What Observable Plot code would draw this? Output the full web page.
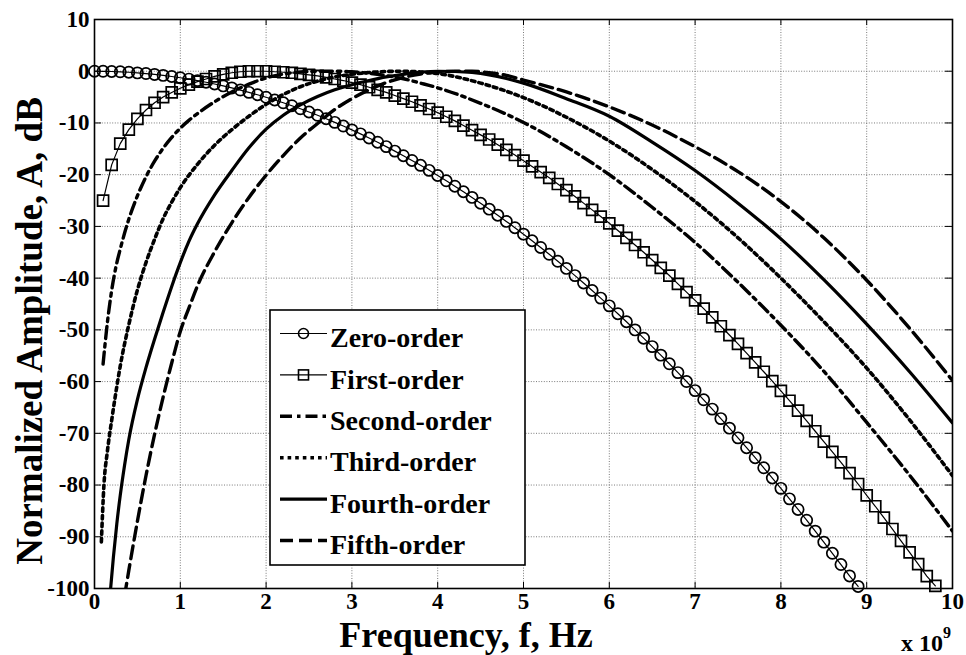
<!DOCTYPE html>
<html>
<head>
<meta charset="utf-8">
<script src="https://cdn.jsdelivr.net/npm/d3@7"></script>
<script src="https://cdn.jsdelivr.net/npm/@observablehq/plot@0.6"></script>
<style>
  html, body { margin: 0; padding: 0; background: #fff; }
  #chart { width: 966px; height: 655px; }
</style>
</head>
<body>
<div id="chart"></div>
<script>
// Axis ticks
const xTicks = [0, 1, 2, 3, 4, 5, 6, 7, 8, 9, 10];
const yTicks = [10, 0, -10, -20, -30, -40, -50, -60, -70, -80, -90, -100];

// Normalized spectra [frequency (x 10^9 Hz), amplitude (dB)]
const zeroOrder = [
  [0.0, 0], [0.1, -0.01], [0.2, -0.05], [0.3, -0.11], [0.4, -0.2], [0.5, -0.32], [0.6, -0.45], [0.7, -0.62], [0.8, -0.81], [0.9, -1.02],
  [1.0, -1.26], [1.1, -1.52], [1.2, -1.81], [1.3, -2.13], [1.4, -2.47], [1.5, -2.84], [1.6, -3.23], [1.7, -3.64], [1.8, -4.08], [1.9, -4.55],
  [2.0, -5.04], [2.1, -5.56], [2.2, -6.1], [2.3, -6.67], [2.4, -7.26], [2.5, -7.88], [2.6, -8.52], [2.7, -9.19], [2.8, -9.88], [2.9, -10.6],
  [3.0, -11.34], [3.1, -12.11], [3.2, -12.9], [3.3, -13.72], [3.4, -14.57], [3.5, -15.44], [3.6, -16.33], [3.7, -17.25], [3.8, -18.19], [3.9, -19.16],
  [4.0, -20.16], [4.1, -21.18], [4.2, -22.23], [4.3, -23.3], [4.4, -24.39], [4.5, -25.52], [4.6, -26.66], [4.7, -27.83], [4.8, -29.03], [4.9, -30.25],
  [5.0, -31.5], [5.1, -32.77], [5.2, -34.07], [5.3, -35.39], [5.4, -36.74], [5.5, -38.12], [5.6, -39.51], [5.7, -40.94], [5.8, -42.39], [5.9, -43.86],
  [6.0, -45.36], [6.1, -46.88], [6.2, -48.43], [6.3, -50.01], [6.4, -51.61], [6.5, -53.24], [6.6, -54.89], [6.7, -56.56], [6.8, -58.26], [6.9, -59.99],
  [7.0, -61.74], [7.1, -63.52], [7.2, -65.32], [7.3, -67.15], [7.4, -69.0], [7.5, -70.88], [7.6, -72.78], [7.7, -74.71], [7.8, -76.66], [7.9, -78.64],
  [8.0, -80.64], [8.1, -82.67], [8.2, -84.72], [8.3, -86.8], [8.4, -88.91], [8.5, -91.04], [8.6, -93.19], [8.7, -95.37], [8.8, -97.57], [8.9, -99.6]
];

const firstOrder = [
  [0.1, -25.0], [0.2, -18.1], [0.3, -14.0], [0.4, -11.3], [0.5, -9.2], [0.6, -7.5], [0.7, -6.1], [0.8, -5.0], [0.9, -4.1],
  [1.0, -3.3], [1.1, -2.6], [1.2, -2.0], [1.3, -1.5], [1.4, -1.0], [1.5, -0.6], [1.6, -0.3], [1.7, -0.1], [1.8, 0.0], [1.9, 0.0],
  [2.0, 0.0], [2.1, -0.1], [2.2, -0.2], [2.3, -0.3], [2.4, -0.5], [2.5, -0.7], [2.6, -0.9], [2.7, -1.2], [2.8, -1.5], [2.9, -1.8],
  [3.0, -2.2], [3.1, -2.6], [3.2, -3.1], [3.3, -3.6], [3.4, -4.1], [3.5, -4.7], [3.6, -5.3], [3.7, -5.9], [3.8, -6.6], [3.9, -7.3],
  [4.0, -8.0], [4.1, -8.8], [4.2, -9.6], [4.3, -10.5], [4.4, -11.4], [4.5, -12.3], [4.6, -13.2], [4.7, -14.2], [4.8, -15.2], [4.9, -16.2],
  [5.0, -17.3], [5.1, -18.4], [5.2, -19.5], [5.3, -20.6], [5.4, -21.8], [5.5, -23.0], [5.6, -24.2], [5.7, -25.5], [5.8, -26.8], [5.9, -28.1],
  [6.0, -29.4], [6.1, -30.8], [6.2, -32.2], [6.3, -33.6], [6.4, -35.0], [6.5, -36.5], [6.6, -38.0], [6.7, -39.5], [6.8, -41.1], [6.9, -42.7],
  [7.0, -44.3], [7.1, -45.9], [7.2, -47.6], [7.3, -49.3], [7.4, -51.0], [7.5, -52.7], [7.6, -54.5], [7.7, -56.3], [7.8, -58.1], [7.9, -59.9],
  [8.0, -61.8], [8.1, -63.7], [8.2, -65.6], [8.3, -67.6], [8.4, -69.6], [8.5, -71.6], [8.6, -73.6], [8.7, -75.6], [8.8, -77.7], [8.9, -79.8],
  [9.0, -82.0], [9.1, -84.1], [9.2, -86.3], [9.3, -88.5], [9.4, -90.8], [9.5, -93.0], [9.6, -95.3], [9.7, -97.6], [9.8, -99.5]
];

const secondOrder = [
  [0.1, -56.6], [0.15, -48.6], [0.2, -42.4], [0.25, -37.8], [0.3, -34.4], [0.4, -28.6], [0.5, -24.1], [0.6, -20.4], [0.7, -17.4],
  [0.8, -14.9], [0.9, -12.8], [1.0, -11.0], [1.1, -9.5], [1.2, -8.2], [1.4, -5.9], [1.6, -4.0], [1.8, -2.5], [2.0, -1.3],
  [2.2, -0.55], [2.4, -0.15], [2.6, 0.0], [2.8, 0.0], [3.0, -0.1], [3.2, -0.4], [3.4, -0.85], [3.6, -1.45], [3.8, -2.3],
  [4.0, -3.2], [4.5, -6.2], [5.0, -9.9], [5.5, -14.6], [6.0, -20.0], [6.5, -26.3], [7.0, -33.1], [7.5, -40.8],
  [8.0, -49.1], [8.5, -58.0], [9.0, -67.9], [9.5, -78.1], [10.0, -88.9]
];

const thirdOrder = [
  [0.08, -91.0], [0.11, -80.0], [0.15, -73.5], [0.2, -67.5], [0.25, -62.0], [0.3, -57.0], [0.4, -49.0], [0.5, -42.3], [0.6, -37.0],
  [0.7, -32.5], [0.8, -28.5], [0.9, -25.3], [1.0, -22.5], [1.2, -18.0], [1.4, -14.3], [1.6, -11.3], [1.8, -8.7], [2.0, -6.4],
  [2.2, -4.5], [2.4, -3.0], [2.6, -1.9], [2.8, -1.1], [3.0, -0.6], [3.2, -0.25], [3.4, -0.05], [3.6, 0.0], [3.8, -0.15],
  [4.0, -0.45], [4.5, -2.3], [5.0, -5.1], [5.5, -8.9], [6.0, -13.5], [6.5, -19.0], [7.0, -25.2], [7.5, -32.2],
  [8.0, -40.0], [8.5, -48.4], [9.0, -57.4], [9.5, -67.4], [10.0, -78.2]
];

const fourthOrder = [
  [0.18, -101.5], [0.22, -94.0], [0.26, -87.5], [0.3, -82.0], [0.35, -76.2], [0.4, -71.2], [0.5, -63.5], [0.6, -57.3], [0.7, -51.8],
  [0.8, -46.6], [0.9, -41.6], [1.0, -37.0], [1.1, -32.9], [1.2, -29.5], [1.4, -23.9], [1.6, -19.2], [1.8, -14.8], [2.0, -11.2],
  [2.2, -8.5], [2.4, -6.5], [2.6, -4.9], [2.8, -3.6], [3.0, -2.6], [3.2, -1.8], [3.4, -1.1], [3.6, -0.6], [3.8, -0.2],
  [4.0, 0.0], [4.2, -0.05], [4.4, -0.25], [4.6, -0.7], [4.8, -1.4], [5.0, -2.3], [5.5, -5.3], [6.0, -8.7], [6.5, -13.7],
  [7.0, -19.2], [7.5, -25.5], [8.0, -32.4], [8.5, -40.3], [9.0, -48.9], [9.5, -58.1], [10.0, -68.0]
];

const fifthOrder = [
  [0.35, -101.5], [0.4, -96.5], [0.5, -87.0], [0.6, -78.2], [0.7, -70.2], [0.8, -63.0], [0.9, -56.4], [1.0, -50.3], [1.1, -45.8],
  [1.2, -41.5], [1.4, -34.9], [1.6, -29.3], [1.8, -24.4], [2.0, -20.1], [2.2, -16.3], [2.4, -12.9], [2.6, -10.1], [2.8, -7.4],
  [3.0, -5.3], [3.2, -3.6], [3.4, -2.2], [3.6, -1.2], [3.8, -0.55], [4.0, -0.15], [4.2, 0.0], [4.4, 0.0], [4.6, -0.3],
  [4.8, -0.8], [5.0, -1.7], [5.5, -4.0], [6.0, -6.9], [6.5, -10.4], [7.0, -14.6], [7.5, -19.4], [8.0, -25.2],
  [8.5, -32.2], [9.0, -40.4], [9.5, -49.7], [10.0, -59.8]
];

const legendLabels = ["Zero-order", "First-order", "Second-order", "Third-order", "Fourth-order", "Fifth-order"];

// Line styles shared by the curves and the legend
const styles = {
  second: {strokeWidth: 3.4, strokeDasharray: "12,5,3.5,5"},
  third:  {strokeWidth: 3.6, strokeDasharray: "3.6,4"},
  fourth: {strokeWidth: 3.2, strokeDasharray: null},
  fifth:  {strokeWidth: 3.4, strokeDasharray: "13,6"}
};

const fx = d => d[0];
const fy = d => d[1];
const frameW = 966 - 94 - 14;
const frameH = 655 - 19 - 67;
const gridStyle = {stroke: "#7a7a7a", strokeOpacity: 1, strokeWidth: 1, strokeDasharray: "1,1.6"};
const font = "'Liberation Serif', 'Times New Roman', serif";

const chart = Plot.plot({
  width: 966,
  height: 655,
  marginLeft: 94,
  marginRight: 14,
  marginTop: 19,
  marginBottom: 67,
  style: {fontFamily: font, fontSize: "23px", fontWeight: "bold", color: "#000", background: "#fff"},
  x: {domain: [0, 10]},
  y: {domain: [-100, 10]},
  marks: [
    Plot.gridX(xTicks, gridStyle),
    Plot.gridY(yTicks, gridStyle),
    Plot.line(fifthOrder, {x: fx, y: fy, stroke: "#000", clip: true, curve: "monotone-x", ...styles.fifth}),
    Plot.line(fourthOrder, {x: fx, y: fy, stroke: "#000", clip: true, curve: "monotone-x", ...styles.fourth}),
    Plot.line(thirdOrder, {x: fx, y: fy, stroke: "#000", clip: true, curve: "monotone-x", ...styles.third}),
    Plot.line(secondOrder, {x: fx, y: fy, stroke: "#000", clip: true, curve: "monotone-x", ...styles.second}),
    Plot.line(firstOrder, {x: fx, y: fy, stroke: "#000", strokeWidth: 1.2}),
    Plot.dot(firstOrder, {x: fx, y: fy, symbol: "square", r: 6.2, stroke: "#000", strokeWidth: 1.7, fill: "none"}),
    Plot.line(zeroOrder, {x: fx, y: fy, stroke: "#000", strokeWidth: 1.2}),
    Plot.dot(zeroOrder, {x: fx, y: fy, symbol: "circle", r: 5.6, stroke: "#000", strokeWidth: 1.7, fill: "none"}),
    // inward ticks on all four sides
    Plot.tickX(xTicks, {x: d => d, insetTop: frameH - 6, stroke: "#000"}),
    Plot.tickX(xTicks, {x: d => d, insetBottom: frameH - 6, stroke: "#000"}),
    Plot.tickY(yTicks, {y: d => d, insetRight: frameW - 7, stroke: "#000"}),
    Plot.tickY(yTicks, {y: d => d, insetLeft: frameW - 7, stroke: "#000"}),
    Plot.frame({stroke: "#000", strokeWidth: 1.6}),
    Plot.axisX(xTicks, {tickSize: 0, tickPadding: 4, tickFormat: d => `${d}`, label: null}),
    Plot.axisY(yTicks, {tickSize: 0, tickPadding: 5, tickFormat: d => `${d}`, label: null})
  ]
});

document.getElementById("chart").appendChild(chart);

const svg = d3.select(chart);

// Axis titles
svg.append("text")
  .attr("x", 466).attr("y", 646.5)
  .attr("text-anchor", "middle")
  .style("font", `bold 36px ${font}`)
  .text("Frequency, f, Hz");

svg.append("text")
  .attr("transform", "translate(42,331) rotate(-90)")
  .attr("text-anchor", "middle")
  .style("font", `bold 37px ${font}`)
  .text("Normalized Amplitude, A, dB");

// Exponent of the frequency axis
const expo = svg.append("text")
  .attr("x", 901).attr("y", 651)
  .attr("text-anchor", "start")
  .style("font", `bold 24px ${font}`);
expo.append("tspan").text("x 10");
expo.append("tspan").attr("dy", -13).style("font-size", "16px").text("9");

// Legend
const lg = svg.append("g");
const lx = 270, ly = 310, lw = 255, lh = 255, rowH = 41.4, firstRow = 333.5;
lg.append("rect")
  .attr("x", lx).attr("y", ly).attr("width", lw).attr("height", lh)
  .attr("fill", "#fff").attr("stroke", "#000").attr("stroke-width", 1.6);

const sampleStyles = [null, null, styles.second, styles.third, styles.fourth, styles.fifth];
legendLabels.forEach((label, i) => {
  const y = firstRow + i * rowH;
  const line = lg.append("line")
    .attr("x1", 280).attr("x2", 327).attr("y1", y).attr("y2", y)
    .attr("stroke", "#000");
  if (i < 2) {
    line.attr("stroke-width", 1.2);
    if (i === 0) {
      lg.append("circle").attr("cx", 303.5).attr("cy", y).attr("r", 5)
        .attr("fill", "none").attr("stroke", "#000").attr("stroke-width", 1.6);
    } else {
      lg.append("rect").attr("x", 298.5).attr("y", y - 5).attr("width", 10).attr("height", 10)
        .attr("fill", "none").attr("stroke", "#000").attr("stroke-width", 1.6);
    }
  } else {
    const s = sampleStyles[i];
    line.attr("stroke-width", s.strokeWidth);
    if (s.strokeDasharray) line.attr("stroke-dasharray", s.strokeDasharray);
  }
  lg.append("text")
    .attr("x", 330).attr("y", y + 13.6)
    .attr("text-anchor", "start")
    .style("font", `bold 28px ${font}`)
    .text(label);
});
</script>
</body>
</html>
